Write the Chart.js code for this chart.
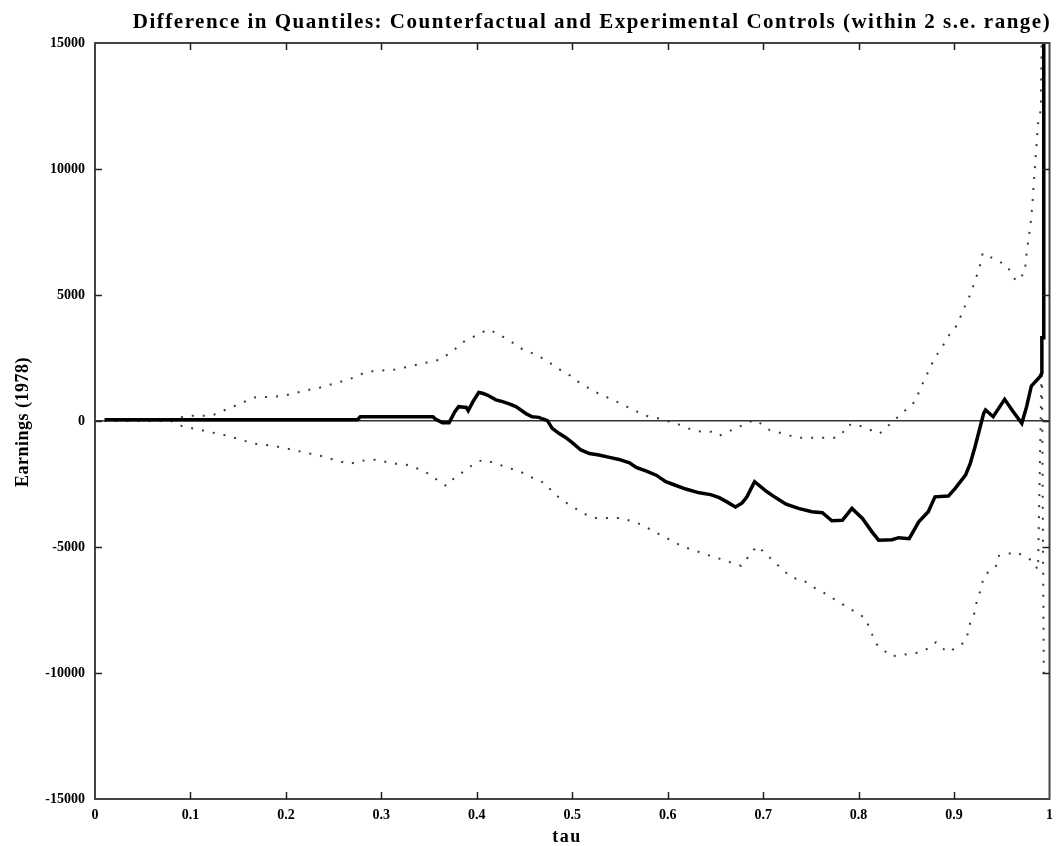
<!DOCTYPE html>
<html>
<head>
<meta charset="utf-8">
<script src="https://cdn.jsdelivr.net/npm/chart.js@4.4.1/dist/chart.umd.min.js"></script>
<style>
  html, body { margin: 0; padding: 0; background: #ffffff; }
  #wrap { width: 1061px; height: 846px; }
</style>
</head>
<body>
<div id="wrap"><canvas id="c" width="1061" height="846"></canvas></div>
<script>
// ---------- data ----------
const chartTitle = "Difference in Quantiles: Counterfactual and Experimental Controls (within 2 s.e. range)";
const xAxisTitle = "tau";
const yAxisTitle = "Earnings (1978)";
const xTickLabels = ["0", "0.1", "0.2", "0.3", "0.4", "0.5", "0.6", "0.7", "0.8", "0.9", "1"];
const yTickLabels = ["-15000", "-10000", "-5000", "0", "5000", "10000", "15000"];

// quantile difference (solid line)
const diffTau = [0.010, 0.275, 0.278, 0.354, 0.357, 0.364, 0.371, 0.377, 0.381, 0.389, 0.391, 0.396, 0.402, 0.406, 0.411, 0.420, 0.427, 0.434, 0.441, 0.452, 0.458, 0.465, 0.469, 0.474, 0.479, 0.486, 0.493, 0.500, 0.509, 0.518, 0.528, 0.539, 0.549, 0.560, 0.567, 0.577, 0.588, 0.598, 0.608, 0.619, 0.633, 0.645, 0.654, 0.662, 0.671, 0.678, 0.683, 0.691, 0.704, 0.713, 0.724, 0.737, 0.751, 0.762, 0.772, 0.783, 0.793, 0.804, 0.814, 0.821, 0.835, 0.842, 0.853, 0.863, 0.873, 0.880, 0.894, 0.901, 0.912, 0.917, 0.922, 0.927, 0.931, 0.933, 0.941, 0.953, 0.962, 0.971, 0.976, 0.981, 0.990, 0.992, 0.992, 0.994, 0.994];
const diffVal = [50, 50, 170, 170, 66, -66, -66, 370, 570, 540, 410, 770, 1130, 1100, 1030, 840, 770, 680, 570, 280, 170, 145, 80, 15, -290, -490, -650, -860, -1150, -1290, -1350, -1445, -1525, -1660, -1840, -1980, -2150, -2410, -2550, -2700, -2850, -2920, -3040, -3210, -3410, -3250, -3010, -2410, -2810, -3040, -3300, -3470, -3600, -3640, -3960, -3940, -3470, -3870, -4400, -4730, -4710, -4630, -4670, -4000, -3600, -3010, -2980, -2680, -2150, -1680, -1020, -290, 300, 440, 170, 860, 370, -90, 570, 1390, 1760, 1900, 3300, 3300, 20000];

// upper bound (+2 s.e.)
const upperTau = [0.010, 0.080, 0.091, 0.101, 0.122, 0.167, 0.197, 0.207, 0.226, 0.236, 0.266, 0.285, 0.314, 0.324, 0.362, 0.377, 0.383, 0.412, 0.421, 0.439, 0.448, 0.464, 0.481, 0.490, 0.498, 0.506, 0.523, 0.542, 0.568, 0.577, 0.588, 0.616, 0.625, 0.636, 0.646, 0.654, 0.691, 0.698, 0.706, 0.736, 0.756, 0.764, 0.775, 0.783, 0.787, 0.796, 0.822, 0.859, 0.867, 0.871, 0.880, 0.886, 0.896, 0.903, 0.911, 0.915, 0.922, 0.928, 0.930, 0.955, 0.965, 0.974, 0.976, 0.980, 0.982, 0.984, 0.988, 0.991, 0.993];
const upperVal = [0, 0, 150, 210, 210, 930, 990, 1090, 1250, 1330, 1650, 1960, 2040, 2120, 2440, 2840, 3080, 3640, 3480, 3080, 2840, 2600, 2200, 1960, 1800, 1560, 1170, 850, 370, 210, 130, -190, -350, -430, -430, -585, 50, -110, -345, -660, -660, -660, -660, -500, -190, -110, -500, 770, 1480, 1800, 2520, 2840, 3480, 3800, 4520, 4840, 5550, 6270, 6660, 6180, 5550, 5870, 6660, 7770, 8570, 9680, 11790, 12390, 20000];

// lower bound (-2 s.e.)
const lowerTau = [0.010, 0.080, 0.091, 0.138, 0.167, 0.186, 0.197, 0.226, 0.236, 0.266, 0.285, 0.295, 0.314, 0.324, 0.335, 0.343, 0.368, 0.374, 0.400, 0.408, 0.446, 0.454, 0.473, 0.479, 0.487, 0.496, 0.513, 0.523, 0.542, 0.552, 0.571, 0.607, 0.615, 0.633, 0.677, 0.690, 0.694, 0.723, 0.731, 0.742, 0.750, 0.759, 0.807, 0.815, 0.819, 0.834, 0.865, 0.873, 0.881, 0.888, 0.894, 0.911, 0.915, 0.917, 0.921, 0.923, 0.929, 0.931, 0.944, 0.946, 0.965, 0.981, 0.988, 0.992, 0.994];
const lowerVal = [0, 0, -200, -580, -900, -980, -1060, -1300, -1380, -1700, -1540, -1540, -1700, -1700, -1860, -1940, -2580, -2340, -1620, -1540, -2020, -2180, -2500, -2820, -3060, -3300, -3690, -3850, -3850, -3850, -4090, -4810, -4970, -5200, -5750, -5120, -4960, -5990, -6230, -6310, -6550, -6710, -7820, -8540, -8860, -9340, -9180, -9020, -8780, -9020, -9180, -8780, -8380, -7980, -7670, -7270, -6550, -6150, -5750, -5360, -5200, -5520, -5900, 2700, -10000];

const toPoints = (xs, ys) => xs.map((x, i) => ({ x: x, y: ys[i] }));

// ---------- decorations: frame, inside ticks, titles ----------
const FONT = '"Liberation Serif", "DejaVu Serif", serif';
const decor = {
  id: 'decor',
  afterDraw(chart) {
    const { ctx, chartArea: a, scales } = chart;
    const xs = scales.x, ys = scales.y;
    ctx.save();
    // frame
    ctx.strokeStyle = '#444';
    ctx.lineWidth = 2;
    ctx.strokeRect(a.left, a.top, a.right - a.left, a.bottom - a.top);
    // inside tick marks
    ctx.strokeStyle = '#222';
    ctx.lineWidth = 1.5;
    ctx.beginPath();
    xs.ticks.forEach(t => {
      const px = Math.round(xs.getPixelForValue(t.value)) + 0.5;
      if (px <= a.left + 2 || px >= a.right - 2) return;
      ctx.moveTo(px, a.bottom); ctx.lineTo(px, a.bottom - 7);
      ctx.moveTo(px, a.top); ctx.lineTo(px, a.top + 7);
    });
    ys.ticks.forEach(t => {
      const py = Math.round(ys.getPixelForValue(t.value)) + 0.5;
      if (py <= a.top + 2 || py >= a.bottom - 2) return;
      ctx.moveTo(a.left, py); ctx.lineTo(a.left + 7, py);
      ctx.moveTo(a.right, py); ctx.lineTo(a.right - 7, py);
    });
    ctx.stroke();
    // titles
    ctx.fillStyle = '#000';
    ctx.textBaseline = 'alphabetic';
    ctx.textAlign = 'center';
    try { ctx.letterSpacing = '1.5px'; } catch (e) {}
    ctx.font = 'bold 21px ' + FONT;
    ctx.fillText(chartTitle, 592, 28);
    try { ctx.letterSpacing = '1.5px'; } catch (e) {}
    ctx.font = 'bold 18px ' + FONT;
    ctx.fillText(xAxisTitle, 567, 842);
    try { ctx.letterSpacing = '0.5px'; } catch (e) {}
    ctx.translate(28, 422);
    ctx.rotate(-Math.PI / 2);
    ctx.fillText(yAxisTitle, 0, 0);
    ctx.restore();
  }
};

new Chart(document.getElementById('c'), {
  type: 'line',
  data: {
    datasets: [
      {
        label: 'Difference',
        data: toPoints(diffTau, diffVal),
        borderColor: '#000',
        borderWidth: 3.5,
        pointRadius: 0,
        tension: 0,
        order: 0
      },
      {
        label: 'Upper',
        data: toPoints(upperTau, upperVal),
        borderColor: '#3a3a3a',
        borderWidth: 2,
        borderDash: [2, 9],
        pointRadius: 0,
        tension: 0,
        order: 1
      },
      {
        label: 'Lower',
        data: toPoints(lowerTau, lowerVal),
        borderColor: '#3a3a3a',
        borderWidth: 2,
        borderDash: [2, 9],
        pointRadius: 0,
        tension: 0,
        order: 2
      }
    ]
  },
  options: {
    responsive: false,
    animation: false,
    devicePixelRatio: 1,
    layout: { padding: { left: 0, right: 9, top: 43, bottom: 0 } },
    plugins: {
      legend: { display: false },
      title: { display: false },
      tooltip: { enabled: false }
    },
    scales: {
      x: {
        type: 'linear',
        min: 0,
        max: 1,
        grid: { display: false, drawTicks: false },
        border: { display: false },
        ticks: {
          stepSize: 0.1,
          autoSkip: false,
          maxRotation: 0,
          padding: 8,
          color: '#000',
          font: { family: FONT, size: 14, weight: 'bold' },
          callback: (v, i) => xTickLabels[i]
        },
        afterFit: s => { s.height = 47; }
      },
      y: {
        type: 'linear',
        min: -15000,
        max: 15000,
        grid: {
          drawTicks: false,
          lineWidth: 1.5,
          color: c => (c.tick && c.tick.value === 0) ? '#333' : 'rgba(0,0,0,0)'
        },
        border: { display: false },
        ticks: {
          stepSize: 5000,
          autoSkip: false,
          padding: 10,
          color: '#000',
          font: { family: FONT, size: 14, weight: 'bold' },
          callback: (v, i) => yTickLabels[i]
        },
        afterFit: s => { s.width = 95; }
      }
    }
  },
  plugins: [decor]
});
</script>
</body>
</html>
